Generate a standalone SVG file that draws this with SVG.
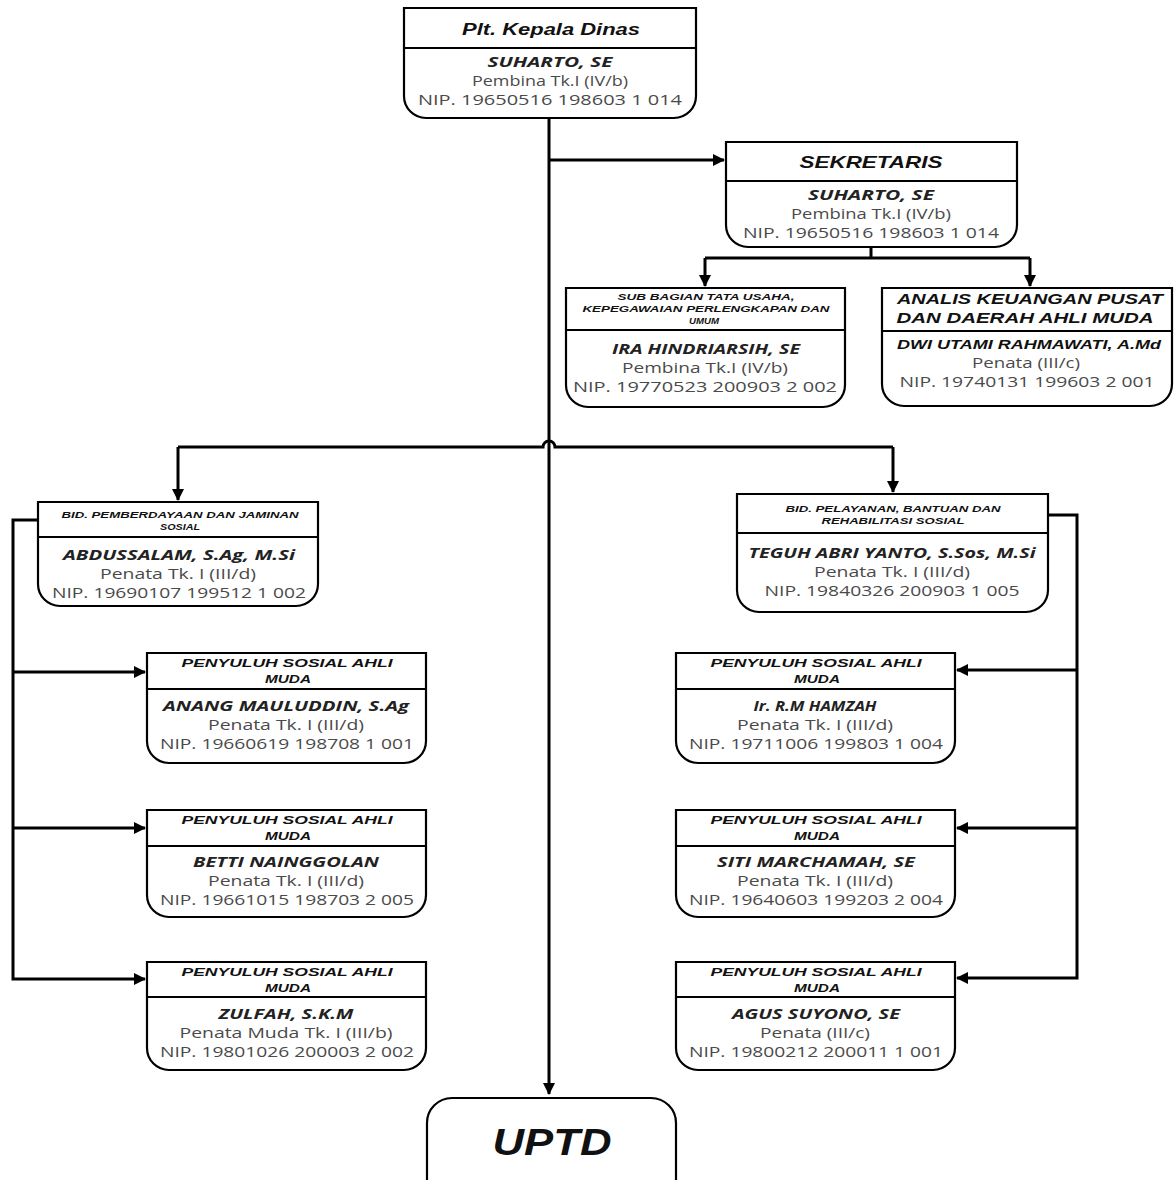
<svg xmlns="http://www.w3.org/2000/svg" width="1174" height="1180" viewBox="0 0 1174 1180">
<defs>
<marker id="ah" markerWidth="12" markerHeight="12" viewBox="0 0 12 12" refX="11" refY="6" orient="auto" markerUnits="userSpaceOnUse">
<path d="M0,0 L12,6 L0,12 Z" fill="#000"/>
</marker>
<style>
.box{fill:#fff;stroke:#000;stroke-width:2.2}
.div{stroke:#000;stroke-width:2.2}
.con{fill:none;stroke:#000;stroke-width:3}
.hd{font-family:"Liberation Sans",Arial,sans-serif;font-weight:bold;font-style:italic;fill:#111;text-anchor:middle}
.nm{font-family:"Open Sans","Noto Sans",sans-serif;font-weight:bold;font-style:italic;fill:#222;text-anchor:middle;font-size:14px}
.tx{font-family:"Open Sans","Noto Sans",sans-serif;fill:#4a4a4a;text-anchor:middle;font-size:14px}
</style>
</defs>
<rect width="1174" height="1180" fill="#fff"/>

<g id="connectors">
<path class="con" d="M549,118 V1094" marker-end="url(#ah)"/>
<path class="con" d="M549,160 H724" marker-end="url(#ah)"/>
<path class="con" d="M871,247 V258"/>
<path class="con" d="M705,258 H1030"/>
<path class="con" d="M705,258 V286" marker-end="url(#ah)"/>
<path class="con" d="M1030,258 V286" marker-end="url(#ah)"/>
<path class="con" d="M178,447 H543 A6,6 0 0 1 555,447 H893"/>
<path class="con" d="M178,447 V500" marker-end="url(#ah)"/>
<path class="con" d="M893,447 V492" marker-end="url(#ah)"/>
<path class="con" d="M38,520 H13 V979 H145" marker-end="url(#ah)"/>
<path class="con" d="M13,672 H145" marker-end="url(#ah)"/>
<path class="con" d="M13,828 H145" marker-end="url(#ah)"/>
<path class="con" d="M1048,515 H1077 V978 H957" marker-end="url(#ah)"/>
<path class="con" d="M1077,670 H957" marker-end="url(#ah)"/>
<path class="con" d="M1077,828 H957" marker-end="url(#ah)"/>
</g>

<g id="kepala">
<path class="box" d="M404,8 H696 V96 A22,22 0 0 1 674,118 H426 A22,22 0 0 1 404,96 Z"/>
<line class="div" x1="404" y1="48" x2="696" y2="48"/>
<text class="hd" x="551" y="35" font-size="16" textLength="178" lengthAdjust="spacingAndGlyphs">Plt. Kepala Dinas</text>
<text class="nm" x="550" y="67" textLength="125" lengthAdjust="spacingAndGlyphs">SUHARTO, SE</text>
<text class="tx" x="550" y="86" textLength="156" lengthAdjust="spacingAndGlyphs">Pembina Tk.I (IV/b)</text>
<text class="tx" x="550" y="105" textLength="264" lengthAdjust="spacingAndGlyphs">NIP. 19650516 198603 1 014</text>
</g>

<g id="sekretaris">
<path class="box" d="M726,142 H1017 V225 A22,22 0 0 1 995,247 H748 A22,22 0 0 1 726,225 Z"/>
<line class="div" x1="726" y1="181" x2="1017" y2="181"/>
<text class="hd" x="871" y="168" font-size="17" textLength="143" lengthAdjust="spacingAndGlyphs">SEKRETARIS</text>
<text class="nm" x="871" y="200" textLength="126" lengthAdjust="spacingAndGlyphs">SUHARTO, SE</text>
<text class="tx" x="871" y="219" textLength="160" lengthAdjust="spacingAndGlyphs">Pembina Tk.I (IV/b)</text>
<text class="tx" x="871" y="238" textLength="256" lengthAdjust="spacingAndGlyphs">NIP. 19650516 198603 1 014</text>
</g>

<g id="subbagian">
<path class="box" d="M566,288 H845 V385 A22,22 0 0 1 823,407 H588 A22,22 0 0 1 566,385 Z"/>
<line class="div" x1="566" y1="330" x2="845" y2="330"/>
<text class="hd" x="706" y="300" font-size="9" textLength="177" lengthAdjust="spacingAndGlyphs">SUB BAGIAN TATA USAHA,</text>
<text class="hd" x="706" y="312" font-size="9" textLength="247" lengthAdjust="spacingAndGlyphs">KEPEGAWAIAN PERLENGKAPAN DAN</text>
<text class="hd" x="704" y="324" font-size="9" textLength="30" lengthAdjust="spacingAndGlyphs">UMUM</text>
<text class="nm" x="706" y="354" textLength="188" lengthAdjust="spacingAndGlyphs">IRA HINDRIARSIH, SE</text>
<text class="tx" x="705" y="373" textLength="166" lengthAdjust="spacingAndGlyphs">Pembina Tk.I (IV/b)</text>
<text class="tx" x="705" y="392" textLength="264" lengthAdjust="spacingAndGlyphs">NIP. 19770523 200903 2 002</text>
</g>

<g id="analis">
<path class="box" d="M882,288 H1172 V384 A22,22 0 0 1 1150,406 H904 A22,22 0 0 1 882,384 Z"/>
<line class="div" x1="882" y1="331" x2="1172" y2="331"/>
<text class="hd" x="1030" y="304" font-size="15.5" textLength="266" lengthAdjust="spacingAndGlyphs">ANALIS KEUANGAN PUSAT</text>
<text class="hd" x="1025" y="323" font-size="15.5" textLength="257" lengthAdjust="spacingAndGlyphs">DAN DAERAH AHLI MUDA</text>
<text class="hd" x="1029" y="349" font-size="12" textLength="264" lengthAdjust="spacingAndGlyphs">DWI UTAMI RAHMAWATI, A.Md</text>
<text class="tx" x="1026" y="368" textLength="108" lengthAdjust="spacingAndGlyphs">Penata (III/c)</text>
<text class="tx" x="1027" y="387" textLength="255" lengthAdjust="spacingAndGlyphs">NIP. 19740131 199603 2 001</text>
</g>

<g id="bid-pemberdayaan">
<path class="box" d="M38,502 H318 V584 A22,22 0 0 1 296,606 H60 A22,22 0 0 1 38,584 Z"/>
<line class="div" x1="38" y1="537" x2="318" y2="537"/>
<text class="hd" x="180" y="518" font-size="8.5" textLength="237" lengthAdjust="spacingAndGlyphs">BID. PEMBERDAYAAN DAN JAMINAN</text>
<text class="hd" x="180" y="530" font-size="8.5" textLength="40" lengthAdjust="spacingAndGlyphs">SOSIAL</text>
<text class="nm" x="179" y="560" textLength="232" lengthAdjust="spacingAndGlyphs">ABDUSSALAM, S.Ag, M.Si</text>
<text class="tx" x="178" y="579" textLength="156" lengthAdjust="spacingAndGlyphs">Penata Tk. I (III/d)</text>
<text class="tx" x="179" y="598" textLength="254" lengthAdjust="spacingAndGlyphs">NIP. 19690107 199512 1 002</text>
</g>

<g id="bid-pelayanan">
<path class="box" d="M737,494 H1048 V590 A22,22 0 0 1 1026,612 H759 A22,22 0 0 1 737,590 Z"/>
<line class="div" x1="737" y1="533" x2="1048" y2="533"/>
<text class="hd" x="893" y="512" font-size="8.5" textLength="215" lengthAdjust="spacingAndGlyphs">BID. PELAYANAN, BANTUAN DAN</text>
<text class="hd" x="893" y="524" font-size="8.5" textLength="143" lengthAdjust="spacingAndGlyphs">REHABILITASI SOSIAL</text>
<text class="nm" x="892" y="558" textLength="287" lengthAdjust="spacingAndGlyphs">TEGUH ABRI YANTO, S.Sos, M.Si</text>
<text class="tx" x="892" y="577" textLength="156" lengthAdjust="spacingAndGlyphs">Penata Tk. I (III/d)</text>
<text class="tx" x="892" y="596" textLength="255" lengthAdjust="spacingAndGlyphs">NIP. 19840326 200903 1 005</text>
</g>

<g id="penyuluh-l1">
<path class="box" d="M147,653 H426 V741 A22,22 0 0 1 404,763 H169 A22,22 0 0 1 147,741 Z"/>
<line class="div" x1="147" y1="689" x2="426" y2="689"/>
<text class="hd" x="287" y="667" font-size="11.5" textLength="211" lengthAdjust="spacingAndGlyphs">PENYULUH SOSIAL AHLI</text>
<text class="hd" x="288" y="683" font-size="11.5" textLength="46" lengthAdjust="spacingAndGlyphs">MUDA</text>
<text class="nm" x="286" y="711" textLength="246" lengthAdjust="spacingAndGlyphs">ANANG MAULUDDIN, S.Ag</text>
<text class="tx" x="286" y="730" textLength="156" lengthAdjust="spacingAndGlyphs">Penata Tk. I (III/d)</text>
<text class="tx" x="287" y="749" textLength="254" lengthAdjust="spacingAndGlyphs">NIP. 19660619 198708 1 001</text>
</g>

<g id="penyuluh-l2">
<path class="box" d="M147,810 H426 V895 A22,22 0 0 1 404,917 H169 A22,22 0 0 1 147,895 Z"/>
<line class="div" x1="147" y1="846" x2="426" y2="846"/>
<text class="hd" x="287" y="824" font-size="11.5" textLength="211" lengthAdjust="spacingAndGlyphs">PENYULUH SOSIAL AHLI</text>
<text class="hd" x="288" y="840" font-size="11.5" textLength="46" lengthAdjust="spacingAndGlyphs">MUDA</text>
<text class="nm" x="286" y="867" textLength="186" lengthAdjust="spacingAndGlyphs">BETTI NAINGGOLAN</text>
<text class="tx" x="286" y="886" textLength="156" lengthAdjust="spacingAndGlyphs">Penata Tk. I (III/d)</text>
<text class="tx" x="287" y="905" textLength="254" lengthAdjust="spacingAndGlyphs">NIP. 19661015 198703 2 005</text>
</g>

<g id="penyuluh-l3">
<path class="box" d="M147,962 H426 V1048 A22,22 0 0 1 404,1070 H169 A22,22 0 0 1 147,1048 Z"/>
<line class="div" x1="147" y1="997" x2="426" y2="997"/>
<text class="hd" x="287" y="976" font-size="11.5" textLength="211" lengthAdjust="spacingAndGlyphs">PENYULUH SOSIAL AHLI</text>
<text class="hd" x="288" y="992" font-size="11.5" textLength="46" lengthAdjust="spacingAndGlyphs">MUDA</text>
<text class="nm" x="286" y="1019" textLength="135" lengthAdjust="spacingAndGlyphs">ZULFAH, S.K.M</text>
<text class="tx" x="286" y="1038" textLength="213" lengthAdjust="spacingAndGlyphs">Penata Muda Tk. I (III/b)</text>
<text class="tx" x="287" y="1057" textLength="254" lengthAdjust="spacingAndGlyphs">NIP. 19801026 200003 2 002</text>
</g>

<g id="penyuluh-r1">
<path class="box" d="M676,653 H955 V741 A22,22 0 0 1 933,763 H698 A22,22 0 0 1 676,741 Z"/>
<line class="div" x1="676" y1="689" x2="955" y2="689"/>
<text class="hd" x="816" y="667" font-size="11.5" textLength="211" lengthAdjust="spacingAndGlyphs">PENYULUH SOSIAL AHLI</text>
<text class="hd" x="817" y="683" font-size="11.5" textLength="46" lengthAdjust="spacingAndGlyphs">MUDA</text>
<text class="nm" x="815" y="711" textLength="123" lengthAdjust="spacingAndGlyphs">Ir. R.M HAMZAH</text>
<text class="tx" x="815" y="730" textLength="156" lengthAdjust="spacingAndGlyphs">Penata Tk. I (III/d)</text>
<text class="tx" x="816" y="749" textLength="254" lengthAdjust="spacingAndGlyphs">NIP. 19711006 199803 1 004</text>
</g>

<g id="penyuluh-r2">
<path class="box" d="M676,810 H955 V895 A22,22 0 0 1 933,917 H698 A22,22 0 0 1 676,895 Z"/>
<line class="div" x1="676" y1="846" x2="955" y2="846"/>
<text class="hd" x="816" y="824" font-size="11.5" textLength="211" lengthAdjust="spacingAndGlyphs">PENYULUH SOSIAL AHLI</text>
<text class="hd" x="817" y="840" font-size="11.5" textLength="46" lengthAdjust="spacingAndGlyphs">MUDA</text>
<text class="nm" x="816" y="867" textLength="198" lengthAdjust="spacingAndGlyphs">SITI MARCHAMAH, SE</text>
<text class="tx" x="815" y="886" textLength="156" lengthAdjust="spacingAndGlyphs">Penata Tk. I (III/d)</text>
<text class="tx" x="816" y="905" textLength="254" lengthAdjust="spacingAndGlyphs">NIP. 19640603 199203 2 004</text>
</g>

<g id="penyuluh-r3">
<path class="box" d="M676,962 H955 V1048 A22,22 0 0 1 933,1070 H698 A22,22 0 0 1 676,1048 Z"/>
<line class="div" x1="676" y1="997" x2="955" y2="997"/>
<text class="hd" x="816" y="976" font-size="11.5" textLength="211" lengthAdjust="spacingAndGlyphs">PENYULUH SOSIAL AHLI</text>
<text class="hd" x="817" y="992" font-size="11.5" textLength="46" lengthAdjust="spacingAndGlyphs">MUDA</text>
<text class="nm" x="816" y="1019" textLength="168" lengthAdjust="spacingAndGlyphs">AGUS SUYONO, SE</text>
<text class="tx" x="815" y="1038" textLength="110" lengthAdjust="spacingAndGlyphs">Penata (III/c)</text>
<text class="tx" x="816" y="1057" textLength="254" lengthAdjust="spacingAndGlyphs">NIP. 19800212 200011 1 001</text>
</g>

<g id="uptd">
<path class="box" d="M427,1184 V1123 A25,25 0 0 1 452,1098 H651 A25,25 0 0 1 676,1123 V1184"/>
<text class="hd" x="552" y="1155" font-size="36" textLength="119" lengthAdjust="spacingAndGlyphs">UPTD</text>
</g>
</svg>
